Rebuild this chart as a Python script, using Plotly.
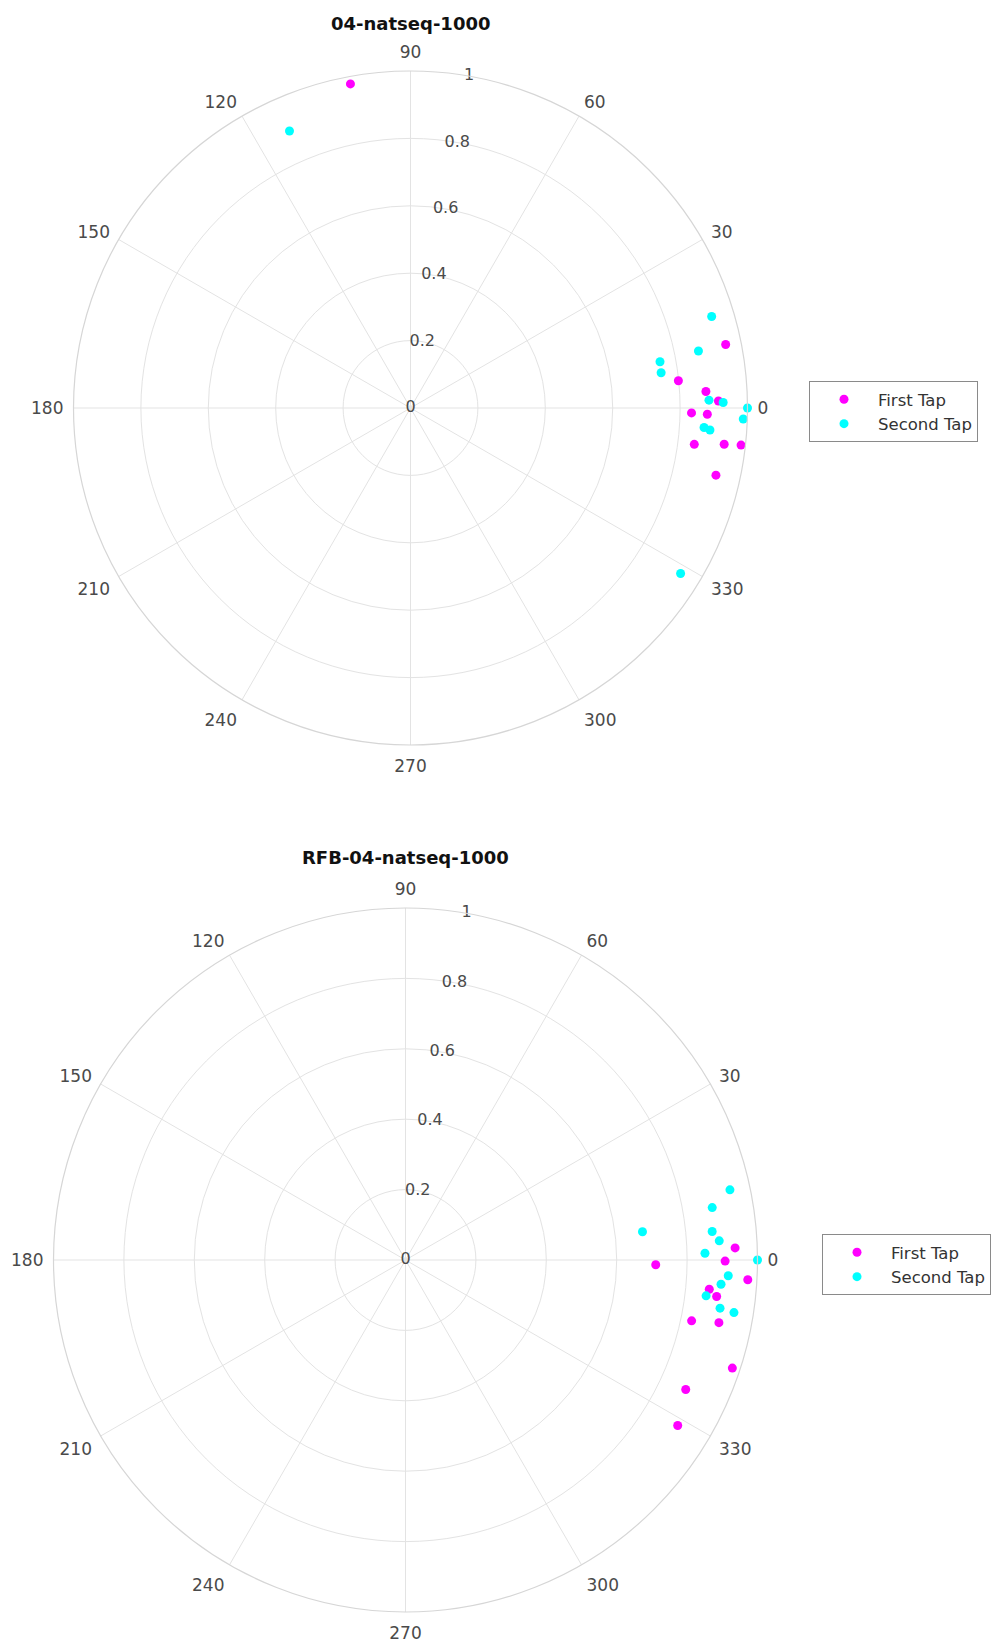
import plotly.graph_objects as go

# ---- data: top panel "04-natseq-1000" ----
top_first_r = [0.954, 0.799, 0.878, 0.914, 0.834, 0.881, 0.849, 0.937, 0.987, 0.928, 0.978]
top_first_theta = [11.4, 5.8, 3.2, 1.3, -1.0, -1.2, -7.3, -6.6, -6.4, -12.4, 100.5]
top_second_r = [0.934, 0.871, 0.753, 0.751, 0.886, 0.928, 1.0, 0.988, 0.873, 0.891, 0.897, 0.940]
top_second_theta = [16.9, 11.2, 10.5, 8.0, 1.5, 1.0, 0.0, -1.9, -3.8, -4.2, 113.6, -31.5]

# ---- data: bottom panel "RFB-04-natseq-1000" ----
bot_first_r = [0.937, 0.711, 0.908, 0.974, 0.867, 0.890, 0.831, 0.908, 0.978, 0.877, 0.905]
bot_first_theta = [2.1, -1.1, -0.2, -3.3, -5.5, -6.7, -12.0, -11.3, -18.3, -24.8, -31.3]
bot_second_r = [0.943, 0.884, 0.678, 0.875, 0.893, 0.851, 1.0, 0.918, 0.899, 0.860, 0.904, 0.945]
bot_second_theta = [12.2, 9.7, 6.8, 5.3, 3.5, 1.3, 0.0, -2.8, -4.4, -6.8, -8.7, -9.1]

titles = ["04-natseq-1000", "RFB-04-natseq-1000"]
series_names = ["First Tap", "Second Tap"]
angle_ticks = list(range(0, 360, 30))
radial_ticks = [0, 0.2, 0.4, 0.6, 0.8, 1]
radial_text = ["0", "0.2", "0.4", "0.6", "0.8", "1"]
radial_label_angle = 80

MAGENTA = "#ff00ff"
CYAN = "#00ffff"
FONT = "DejaVu Sans, sans-serif"
GRID = "#e3e3e3"
TICKCOL = "#4a4a4a"

fig = go.Figure()

panels = [
    ("polar", "legend", top_first_r, top_first_theta, top_second_r, top_second_theta),
    ("polar2", "legend2", bot_first_r, bot_first_theta, bot_second_r, bot_second_theta),
]
for sub, leg, fr, ft, sr, st in panels:
    # radial tick labels, centred on the 80-degree ray as in the original
    fig.add_trace(go.Scatterpolar(r=radial_ticks, theta=[radial_label_angle] * len(radial_ticks),
                                  mode="text", text=radial_text, textposition="middle center",
                                  textfont=dict(family=FONT, size=16, color=TICKCOL),
                                  subplot=sub, showlegend=False, hoverinfo="skip", cliponaxis=False))
    fig.add_trace(go.Scatterpolar(r=fr, theta=ft, mode="markers", name=series_names[0],
                                  marker=dict(color=MAGENTA, size=9), subplot=sub, legend=leg))
    fig.add_trace(go.Scatterpolar(r=sr, theta=st, mode="markers", name=series_names[1],
                                  marker=dict(color=CYAN, size=9), subplot=sub, legend=leg))

W, H = 1003, 1647

def polar_layout(cx, cy, R):
    return dict(
        domain=dict(x=[(cx - R) / W, (cx + R) / W], y=[1 - (cy + R) / H, 1 - (cy - R) / H]),
        bgcolor="white",
        angularaxis=dict(direction="counterclockwise", rotation=0, thetaunit="degrees",
                         tickmode="array", tickvals=angle_ticks,
                         ticktext=[str(a) for a in angle_ticks],
                         showline=True, linecolor="#d6d6d6", linewidth=1.2,
                         gridcolor=GRID, gridwidth=1, ticks="outside", ticklen=6,
                         tickcolor="rgba(0,0,0,0)",
                         tickfont=dict(family=FONT, size=17, color=TICKCOL)),
        radialaxis=dict(range=[0, 1], angle=radial_label_angle, tickmode="array",
                        tickvals=radial_ticks, showticklabels=False,
                        showline=False, gridcolor=GRID, gridwidth=1, ticks=""),
    )

legend_style = dict(bgcolor="white", bordercolor="#8a8a8a", borderwidth=1,
                    font=dict(family=FONT, size=16.5, color="#333333"),
                    xanchor="left", yanchor="top", itemsizing="trace",
                    itemwidth=58, tracegroupgap=0)

fig.update_layout(
    width=W, height=H,
    margin=dict(l=0, r=0, t=0, b=0),
    paper_bgcolor="white",
    plot_bgcolor="white",
    polar=polar_layout(410.5, 408, 337),
    polar2=polar_layout(405.5, 1260, 352),
    legend=dict(x=809 / W, y=1 - 381 / H, **legend_style),
    legend2=dict(x=822 / W, y=1 - 1234 / H, **legend_style),
    showlegend=True,
    annotations=[
        dict(text="<b>" + titles[0] + "</b>", x=410 / W, y=1 - 24 / H, xref="paper", yref="paper",
             showarrow=False, font=dict(family=FONT, size=18, color="#111111"),
             xanchor="center", yanchor="middle"),
        dict(text="<b>" + titles[1] + "</b>", x=405 / W, y=1 - 857 / H, xref="paper", yref="paper",
             showarrow=False, font=dict(family=FONT, size=18, color="#111111"),
             xanchor="center", yanchor="middle"),
    ],
)

fig.write_html("out.html", config={"displayModeBar": False},
               post_script="document.body.style.margin='0';")
